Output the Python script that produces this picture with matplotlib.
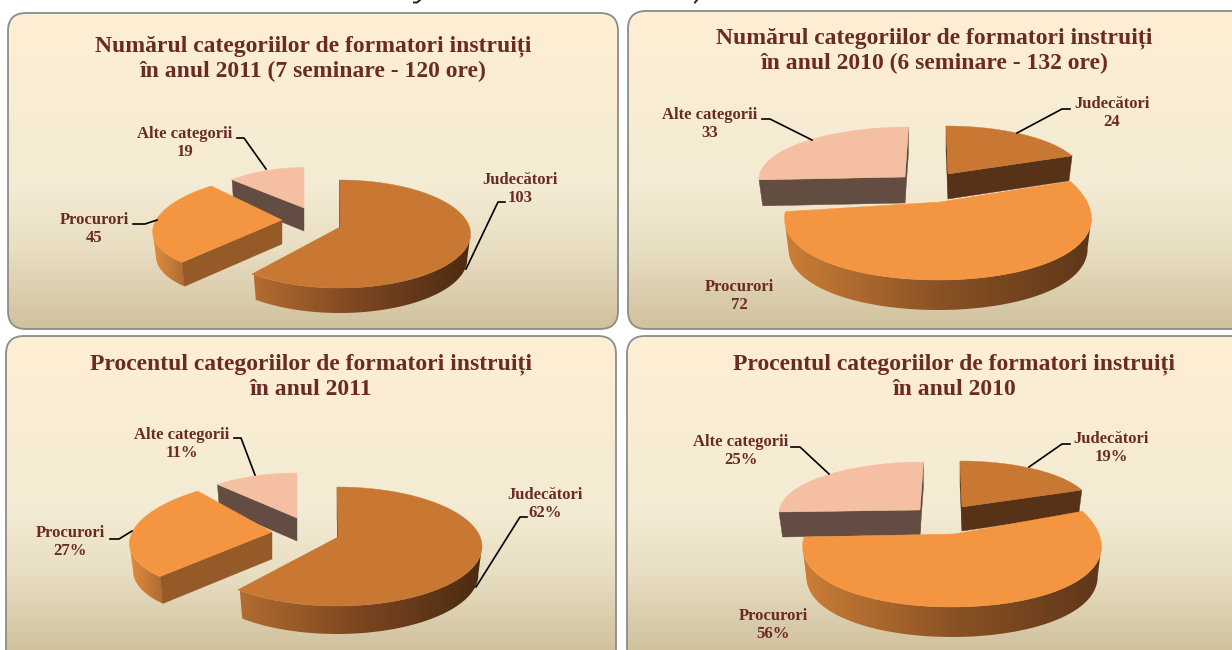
import numpy as np
import matplotlib
matplotlib.use("Agg")
import matplotlib.pyplot as plt
from matplotlib.colors import LinearSegmentedColormap
from matplotlib.patches import FancyBboxPatch, Polygon

categories = ["Judecători", "Procurori", "Alte categorii"]
counts_2011 = [103, 45, 19]
counts_2010 = [24, 72, 33]
percent_2011 = [62, 27, 11]
percent_2010 = [19, 56, 25]

titles = [
    "Numărul categoriilor de formatori instruiți\nîn anul 2011 (7 seminare - 120 ore)",
    "Numărul categoriilor de formatori instruiți\nîn anul 2010 (6 seminare - 132 ore)",
    "Procentul categoriilor de formatori instruiți\nîn anul 2011",
    "Procentul categoriilor de formatori instruiți\nîn anul 2010",
]

TEXT_COLOR = "#6A2A26"
TOP_COLORS = ["#C97833", "#F49542", "#F5BFA3"]
CUT_COLORS = ["#573216", "#965A28", "#634D42"]

bg_cmap = LinearSegmentedColormap.from_list(
    "bg", [(0, "#FFEFD3"), (0.55, "#F3EBD3"), (0.75, "#E8DEC2"), (1, "#D0C19D")])
wall_j = LinearSegmentedColormap.from_list("wj", ["#B36C30", "#7A4520", "#4B2B11"])
wall_p = LinearSegmentedColormap.from_list("wp", ["#E08E40", "#B06B30"])
wall_p_big = LinearSegmentedColormap.from_list("wpb", ["#CC7E37", "#8A5225", "#5E3719"])

# box of each panel: x0, y0, x1, y1 in pixels
panel_boxes = [(8, 13, 618, 329), (628, 11, 1250, 329), (6, 336, 616, 672), (627, 336, 1250, 672)]
title_pos = [(313, 58.5), (934, 50.5), (311, 377), (954, 377)]

# slice shape: ellipse x, y, rx, ry, skew, perspective, apex x, apex y, depth
shapes = [
    [(339.5, 234, 131, 54, 0, 0, 340, 227, 25),
     (280, 224.5, 126, 51, -0.36, 0, 282, 220, 24),
     (299, 217.5, 108, 50, -0.1, 0, 304, 208, 23)],
    [(946, 175, 137, 49, 0, 0, 948, 174, 25),
     (938, 209, 152, 71, 0, 0.14, 940, 202, 30),
     (906, 178, 147, 51, -0.05, 0, 905, 177, 26)],
    [(337, 546.5, 145, 59.5, 0, 0, 338, 537, 28),
     (271, 535, 140, 57, -0.365, 0, 272, 532, 27),
     (292, 523, 123, 50, -0.1, 0, 297, 518, 23)],
    [(960, 507, 131, 46, 0, 0, 962, 507, 24),
     (952, 537, 148, 70, 0, 0.14, 954, 534, 30),
     (921, 512, 142, 50, -0.05, 0, 920, 510, 25)],
]
draw_order = [[2, 1, 0], [2, 0, 1], [2, 1, 0], [2, 0, 1]]
big_wall = [[wall_j, wall_p, None], [wall_j, wall_p_big, None],
            [wall_j, wall_p, None], [wall_j, wall_p_big, None]]

# label centre x, first line y, for each category
label_pos = [
    [(520, 180), (94, 220), (185, 134)],
    [(1112, 104), (739, 287), (710, 115)],
    [(545, 495), (70, 533), (182, 435)],
    [(1111, 439), (773, 616), (741, 442)],
]
leaders = [
    [[(505, 202), (498, 202), (466, 269)], [(133, 224), (145, 224), (157, 220)], [(237, 138), (244, 138), (266, 169)]],
    [[(1070, 109), (1062, 109), (1017, 133)], None, [(762, 119), (770, 119), (812, 140)]],
    [[(527, 517), (520, 517), (476, 587)], [(110, 539), (119, 539), (132, 531)], [(234, 438), (241, 438), (255, 475)]],
    [[(1070, 444), (1062, 444), (1029, 467)], None, [(791, 447), (800, 447), (829, 474)]],
]
# remains of a text line cut off by the top edge, too little of it to read
top_tails = [[(420, 0), (417, 2.5), (414, 2.5)], [(697, 0), (695, 2.5)]]

# bottom of the slice narrows a little towards its middle
NARROW = 0.025


def rim(shape, t):
    ex, ey, rx, ry, skew, persp = shape[:6]
    x = ex + rx * np.sin(t) * (1 - persp * np.cos(t)) - skew * ry * np.cos(t)
    y = ey - ry * np.cos(t)
    return x, y


def draw_gradient(ax, pts, cmap):
    pts = np.array(pts)
    x0, x1 = pts[:, 0].min(), pts[:, 0].max()
    y0, y1 = pts[:, 1].min(), pts[:, 1].max()
    grad = np.linspace(0, 1, 256).reshape(1, -1)
    im = ax.imshow(grad, extent=(x0, x1, y1, y0), cmap=cmap, aspect="auto", zorder=3)
    clip = Polygon(pts, closed=True, transform=ax.transData, fc="none", ec="none")
    ax.add_patch(clip)
    im.set_clip_path(clip)


def draw_slice(ax, shape, t0, t1, top, cut, wall):
    ex = shape[0]
    depth = shape[8]
    apex = np.array(shape[6:8])
    t = np.linspace(t0, t1, 200)
    x, y = rim(shape, t)
    low_x = x + (ex - x) * NARROW

    # outer wall, only the part of the rim that faces the viewer
    front = np.r_[np.diff(x) < 0, False]
    if wall is not None and front.sum() > 1:
        pts = list(zip(x[front], y[front])) + list(zip(low_x[front][::-1], y[front][::-1] + depth))
        draw_gradient(ax, pts, wall)

    # cut faces of the slice
    for xe, ye, xl, sign in [(x[0], y[0], low_x[0], -1), (x[-1], y[-1], low_x[-1], 1)]:
        if (xe - apex[0]) * sign > 0:
            pts = [apex, (xe, ye), (xl, ye + depth), (apex[0], apex[1] + depth)]
            ax.add_patch(Polygon(pts, closed=True, fc=cut, ec=cut, lw=0.3, zorder=3))

    pts = [apex] + list(zip(x, y))
    ax.add_patch(Polygon(pts, closed=True, fc=top, ec=top, lw=0.3, zorder=3))


fig = plt.figure(figsize=(12.32, 6.5), dpi=100)
ax = fig.add_axes([0, 0, 1, 1])

all_values = [counts_2011, counts_2010, percent_2011, percent_2010]

for i, values in enumerate(all_values):
    x0, y0, x1, y1 = panel_boxes[i]
    box = FancyBboxPatch((x0, y0), x1 - x0, y1 - y0, boxstyle="round,pad=0,rounding_size=18",
                         fc="none", ec="#8C8C8C", lw=1.3, zorder=2)
    ax.add_patch(box)
    grad = np.linspace(0, 1, 256).reshape(-1, 1)
    im = ax.imshow(grad, extent=(x0, x1, min(y1, 652), y0), cmap=bg_cmap, aspect="auto", zorder=1)
    im.set_clip_path(box)

    ax.text(title_pos[i][0], title_pos[i][1], titles[i], ha="center", va="center",
            fontsize=17, fontweight="bold", family="Liberation Serif",
            color=TEXT_COLOR, linespacing=1.24, zorder=5)

    total = sum(values)
    start = np.cumsum([0] + values[:-1]) / total * 2 * np.pi
    stop = np.cumsum(values) / total * 2 * np.pi
    for k in draw_order[i]:
        draw_slice(ax, shapes[i][k], start[k], stop[k], TOP_COLORS[k], CUT_COLORS[k], big_wall[i][k])

    suffix = "%" if i >= 2 else ""
    for k, name in enumerate(categories):
        lx, ly = label_pos[i][k]
        ax.text(lx, ly + 9, f"{name}\n{values[k]}{suffix}", ha="center", va="center",
                fontsize=12, fontweight="bold", family="Liberation Serif",
                color=TEXT_COLOR, linespacing=1.12, zorder=5)
        if leaders[i][k] is not None:
            line = np.array(leaders[i][k])
            ax.plot(line[:, 0], line[:, 1], color="black", lw=1.2, zorder=4)

for tail in top_tails:
    line = np.array(tail)
    ax.plot(line[:, 0], line[:, 1], color="#222222", lw=1.4)

ax.set_xlim(0, 1232)
ax.set_ylim(650, 0)
ax.axis("off")
fig.savefig("out.png", dpi=100)
